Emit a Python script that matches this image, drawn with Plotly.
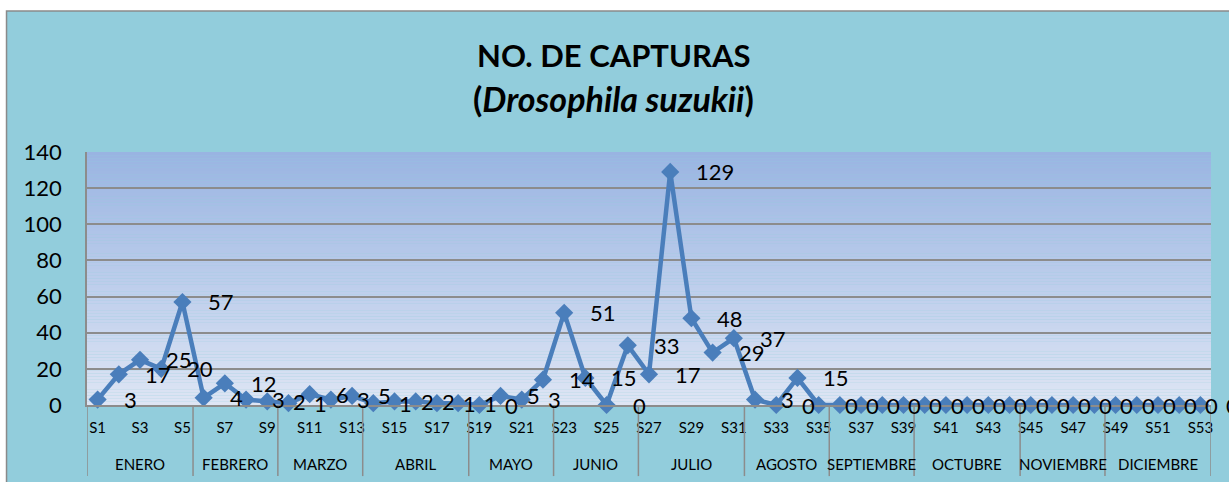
import plotly.graph_objects as go

# ---- data ----
weeks = [f"S{i}" for i in range(1, 54)]
captures = [3, 17, 25, 20, 57, 4, 12, 3, 2,
            1, 6, 3, 5, 1, 2, 2, 1, 1,
            0, 5, 3, 14, 51, 15, 0, 33,
            17, 129, 48, 29, 37, 3, 0, 15, 0,
            0, 0, 0, 0, 0, 0, 0, 0, 0, 0, 0, 0, 0, 0, 0, 0, 0, 0]
months = ["ENERO", "FEBRERO", "MARZO", "ABRIL", "MAYO", "JUNIO", "JULIO",
          "AGOSTO", "SEPTIEMBRE", "OCTUBRE", "NOVIEMBRE", "DICIEMBRE"]
weeks_per_month = [5, 4, 4, 5, 4, 4, 5, 4, 4, 5, 4, 5]
y_ticks = [0, 20, 40, 60, 80, 100, 120, 140]
title_line1 = "NO. DE CAPTURAS"
title_species = "Drosophila suzukii"

FONT = "Lato, 'Open Sans', sans-serif"
LINE_BLUE = "#4A7EBB"
GRID = "#8C8C8C"
CHART_BG = "#92CDDC"

x = list(range(1, len(weeks) + 1))

fig = go.Figure()
fig.add_trace(go.Scatter(
    x=x, y=captures, mode="lines+markers",
    line=dict(color=LINE_BLUE, width=4.5),
    marker=dict(symbol="diamond", size=14, color=LINE_BLUE),
    hoverinfo="skip", showlegend=False, cliponaxis=False,
))

shapes = []
# chart area background
shapes.append(dict(type="rect", xref="paper", yref="paper",
                   x0=-0.0716, x1=1.2, y0=-0.5, y1=1.557,
                   fillcolor=CHART_BG, line=dict(color="#8A8A8A", width=1.5),
                   layer="below"))
# plot area gradient
top = (153, 180, 226)
bot = (222, 229, 244)
N = 80
for k in range(N):
    t = (k + 0.5) / N
    c = tuple(round(bot[j] + (top[j] - bot[j]) * t) for j in range(3))
    shapes.append(dict(type="rect", xref="paper", yref="paper",
                       x0=0, x1=1, y0=k / N, y1=(k + 1) / N,
                       fillcolor=f"rgb{c}", line=dict(width=0), layer="below"))
# month dividers
bounds = [0]
for n in weeks_per_month:
    bounds.append(bounds[-1] + n)
for b in bounds:
    shapes.append(dict(type="line", xref="x", yref="paper",
                       x0=b + 0.5, x1=b + 0.5, y0=0, y1=-0.281,
                       line=dict(color=GRID, width=1.5)))

annotations = []
for i, m in enumerate(months):
    cx = (bounds[i] + bounds[i + 1]) / 2 + 0.5
    annotations.append(dict(x=cx, y=-0.233, xref="x", yref="paper",
                            text=m, showarrow=False, xanchor="center", yanchor="middle",
                            font=dict(family=FONT, size=15, color="black")))
for xi, v in zip(x, captures):
    annotations.append(dict(x=xi, y=v, xref="x", yref="y", text=str(v),
                            showarrow=False, xanchor="left", yanchor="middle",
                            xshift=24, font=dict(family=FONT, size=22, color="black")))
annotations.append(dict(x=0.468, y=1.383, xref="paper", yref="paper",
                        text=f"<b>{title_line1}</b>", showarrow=False,
                        xanchor="center", yanchor="middle",
                        font=dict(family=FONT, size=31, color="black")))
annotations.append(dict(x=0.468, y=1.213, xref="paper", yref="paper",
                        text=f"<b>(<i>{title_species}</i>)</b>", showarrow=False,
                        xanchor="center", yanchor="middle",
                        font=dict(family=FONT, size=34, color="black")))

fig.update_layout(
    width=1229, height=482,
    margin=dict(l=87, r=18, t=152, b=77, pad=0),
    paper_bgcolor="white", plot_bgcolor="rgba(0,0,0,0)",
    shapes=shapes, annotations=annotations, showlegend=False,
    xaxis=dict(range=[0.5, len(weeks) + 0.5], tickmode="array",
               tickvals=x[::2], ticktext=weeks[::2],
               showgrid=False, zeroline=False, showline=True,
               linecolor=GRID, linewidth=1.5, ticks="",
               ticklabelstandoff=8,
               tickfont=dict(family=FONT, size=15, color="black")),
    yaxis=dict(range=[0, 140], tickmode="array", tickvals=y_ticks,
               showgrid=True, gridcolor=GRID, gridwidth=1.5,
               zeroline=False, showline=True, linecolor=GRID, linewidth=1.5,
               ticks="", ticklabelstandoff=19,
               tickfont=dict(family=FONT, size=22, color="black")),
)

fig.write_html("out.html", config={"displayModeBar": False},
               post_script="document.body.style.margin='0';document.body.style.overflow='hidden';")
